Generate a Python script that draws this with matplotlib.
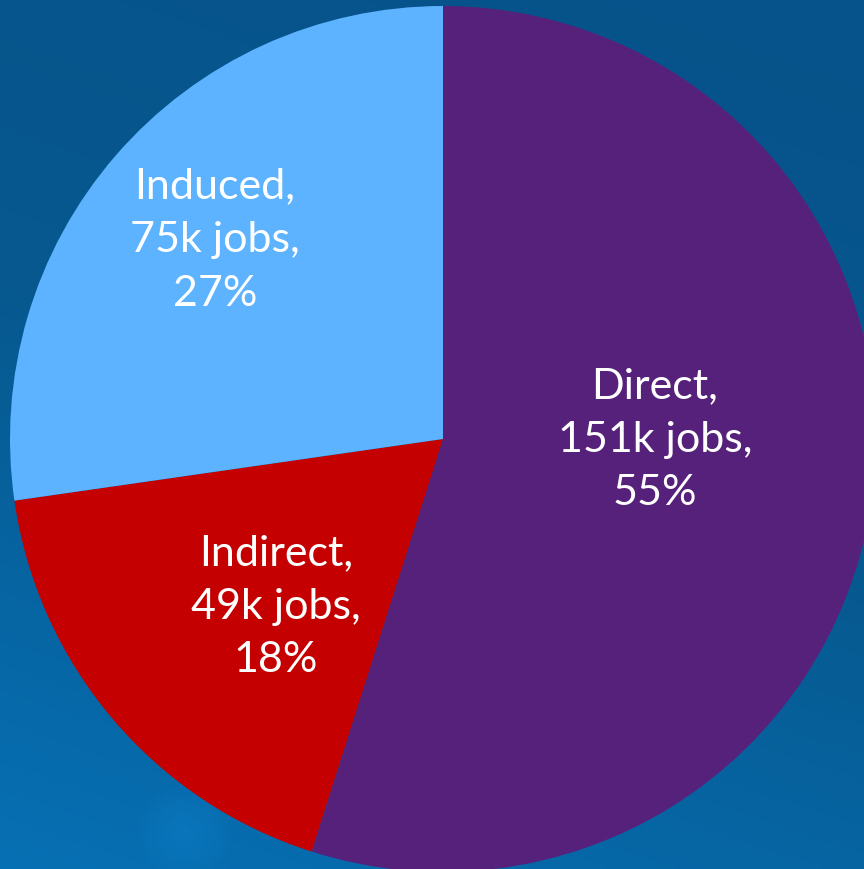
import numpy as np
import matplotlib
matplotlib.use("Agg")
import matplotlib.pyplot as plt
from matplotlib.colors import LinearSegmentedColormap

categories = ["Direct", "Indirect", "Induced"]
jobs_k = [151, 49, 75]
percents = [55, 18, 27]
colors = ["#56217a", "#c50000", "#5db3ff"]

W, H = 864, 870
fig = plt.figure(figsize=(W / 100, H / 100), dpi=100)
ax = fig.add_axes([0, 0, 1, 1])
ax.set_xlim(0, W)
ax.set_ylim(0, H)
ax.axis("off")

# background gradient
bg = LinearSegmentedColormap.from_list("bg", ["#0670b4", "#07598f", "#06528a"])
yy, xx = np.mgrid[0:1:200j, 0:1:200j]
grad = 0.75 * yy + 0.25 * xx
ax.imshow(grad, cmap=bg, extent=[0, W, 0, H], origin="lower", aspect="auto", zorder=0)

# faint glow (smooth radial)
gy, gx = np.mgrid[0:120, 0:160]
d = np.hypot(gx - 80, gy - 60) / 50.0
alpha = np.clip(1 - d, 0, 1) ** 0.8 * 0.22
rgba = np.zeros((120, 160, 4))
rgba[..., 0] = 0.10
rgba[..., 1] = 0.60
rgba[..., 2] = 0.95
rgba[..., 3] = alpha
ax.imshow(rgba, extent=[105, 265, -22, 98], origin="lower", aspect="auto", zorder=1)

cx, cy, R = 443, 430, 433
ax.pie(jobs_k, colors=colors, startangle=90, counterclock=False,
       center=(cx, cy), radius=R, frame=True,
       wedgeprops=dict(linewidth=0, zorder=2))
ax.set_xlim(0, W)
ax.set_ylim(0, H)
ax.set_aspect("auto")
ax.axis("off")

label_pos = {"Direct": (655, 870 - 440), "Indirect": (276, 870 - 607), "Induced": (215, 870 - 240)}
for c, j, p in zip(categories, jobs_k, percents):
    x, y = label_pos[c]
    ax.text(x, y, f"{c},\n{j}k jobs,\n{p}%", ha="center", va="center",
            color="white", fontsize=31, family="Lato", linespacing=1.5, zorder=5)

fig.savefig("out.png", dpi=100)
